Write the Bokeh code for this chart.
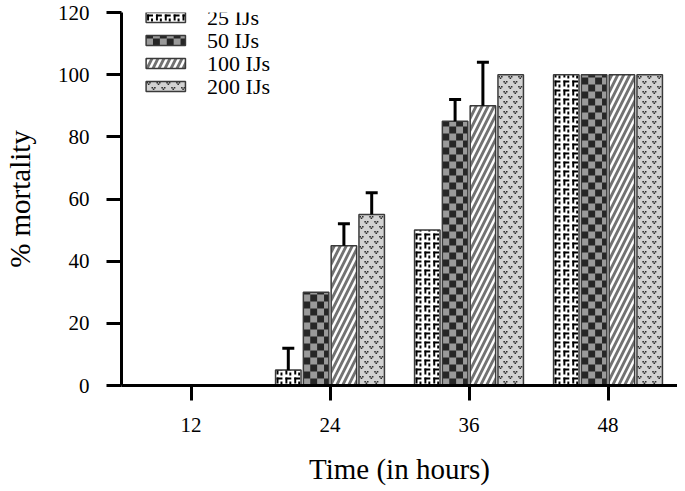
import math
from bokeh.plotting import figure
from bokeh.models import (Range1d, FixedTicker, Whisker, TeeHead,
                          ColumnDataSource, Label)
from bokeh.embed import file_html
from bokeh.resources import INLINE

# ---- data ----
hours = [12, 24, 36, 48]
doses = ["25 IJs", "50 IJs", "100 IJs", "200 IJs"]
mort_25 = [0, 5, 50, 100]
mort_50 = [0, 30, 85, 100]
mort_100 = [0, 45, 90, 100]
mort_200 = [0, 55, 100, 100]
err_25 = [0, 7, 0, 0]
err_50 = [0, 0, 7, 0]
err_100 = [0, 7, 14, 0]
err_200 = [0, 7, 0, 0]
y_ticks = [0, 20, 40, 60, 80, 100, 120]

series = [mort_25, mort_50, mort_100, mort_200]
errors = [err_25, err_50, err_100, err_200]

# ---- layout / style ----
FONT = "Liberation Serif"
W, H = 677, 487
BL, BR, BT, BB = 112, 0, 12, 102
X0, X1, Y0, Y1 = 6, 54, 0, 120
ux = (X1 - X0) / (W - BL - BR)      # data units per pixel (x)
uy = (Y1 - Y0) / (H - BT - BB)      # data units per pixel (y)
offsets = [-3.6, -1.2, 1.2, 3.6]
bar_w = 2.2
OUTLINE = "#3a3a3a"

# pattern tiles in pixels: (tile_w, tile_h, base colour, mark colour, rects (x, y_down, w, h))
patterns = [
    (9, 9, "white", "black", [(1, 1, 6, 2), (1, 1, 2, 6), (5, 5, 2, 3)]),
    (14, 14, "#9a9a9a", "#262626", [(0, 0, 7, 7), (7, 7, 7, 7)]),
    None,
    (10, 10, "#d2d2d2", "#2e2e2e", [(0.5, 0.5, 1.6, 1.6), (1.8, 2.0, 1.6, 1.6), (3.1, 0.5, 1.6, 1.6),
                                   (5.5, 5.5, 1.6, 1.6), (6.8, 7.0, 1.6, 1.6), (8.1, 5.5, 1.6, 1.6)]),
]
hatch100 = dict(fill_color="#727272", hatch_pattern="/", hatch_color="white",
                hatch_weight=2.5, hatch_scale=12)


def tile_quads(l, r, b, t, pat, acc):
    tw, th, _, _, rects = pat
    wpx = (r - l) / ux
    hpx = (t - b) / uy
    if wpx <= 0 or hpx <= 0:
        return
    ncol = int(math.ceil(wpx / tw))
    nrow = int(math.ceil(hpx / th))
    for i in range(nrow):
        for j in range(ncol):
            for (x0, y0, w, h) in rects:
                ql = l + (j * tw + x0) * ux
                qr = l + (j * tw + x0 + w) * ux
                qt = b + ((i + 1) * th - y0) * uy
                qb = b + ((i + 1) * th - y0 - h) * uy
                ql, qr = max(ql, l), min(qr, r)
                qb, qt = max(qb, b), min(qt, t)
                if qr > ql and qt > qb:
                    acc["left"].append(ql); acc["right"].append(qr)
                    acc["bottom"].append(qb); acc["top"].append(qt)


p = figure(width=W, height=H, output_backend="svg", toolbar_location=None,
           x_range=Range1d(X0, X1), y_range=Range1d(Y0, Y1),
           min_border_left=BL, min_border_right=BR, min_border_top=BT,
           min_border_bottom=BB)
p.outline_line_color = None
p.xgrid.visible = False
p.ygrid.visible = False

# legend geometry (pixels from frame top-left)
LEG_X, LEG_ROW0, LEG_STEP, SW_W, SW_H, TXT_DX = 25, 5, 23, 40, 10, 62

for k in range(4):
    xs = [h + offsets[k] for h in hours]
    tops = series[k]
    src = ColumnDataSource(dict(x=xs, top=tops))
    pat = patterns[k]

    # legend swatch rectangle (data coords)
    sl = X0 + LEG_X * ux
    sr = sl + SW_W * ux
    yc = Y1 - (LEG_ROW0 + k * LEG_STEP) * uy
    sb, st = yc - SW_H / 2 * uy, yc + SW_H / 2 * uy

    if pat is None:
        p.vbar(x="x", top="top", bottom=0, width=bar_w, source=src,
               line_color=None, **hatch100)
        p.quad(left=[sl], right=[sr], bottom=[sb], top=[st], line_color=None, **hatch100)
    else:
        p.vbar(x="x", top="top", bottom=0, width=bar_w, source=src,
               fill_color=pat[2], line_color=None)
        p.quad(left=[sl], right=[sr], bottom=[sb], top=[st],
               fill_color=pat[2], line_color=None)
        acc = dict(left=[], right=[], bottom=[], top=[])
        for xc, tv in zip(xs, tops):
            tile_quads(xc - bar_w / 2, xc + bar_w / 2, 0, tv, pat, acc)
        tile_quads(sl, sr, sb, st, pat, acc)
        p.quad(left="left", right="right", bottom="bottom", top="top",
               source=ColumnDataSource(acc), fill_color=pat[3], line_color=None)

    # outlines
    p.vbar(x="x", top="top", bottom=0, width=bar_w, source=src,
           fill_color=None, line_color=OUTLINE, line_width=1.5)
    p.quad(left=[sl], right=[sr], bottom=[sb], top=[st],
           fill_color=None, line_color=OUTLINE, line_width=1.5)

    p.add_layout(Label(x=X0 + (LEG_X + TXT_DX) * ux, y=yc, text=doses[k],
                       text_baseline="middle", text_align="left",
                       text_font=FONT, text_font_size="22px", text_color="black"))

    # error bars (upper only)
    ex = [xs[i] for i in range(4) if errors[k][i] > 0]
    lo = [tops[i] for i in range(4) if errors[k][i] > 0]
    hi = [tops[i] + errors[k][i] for i in range(4) if errors[k][i] > 0]
    if ex:
        es = ColumnDataSource(dict(x=ex, lower=lo, upper=hi))
        p.add_layout(Whisker(base="x", lower="lower", upper="upper", source=es,
                             dimension="height", line_color="black", line_width=3,
                             upper_head=TeeHead(size=12, line_width=3, line_color="black"),
                             lower_head=None, level="overlay"))

for ax in (p.xaxis[0], p.yaxis[0]):
    ax.axis_line_width = 3
    ax.axis_line_color = "black"
    ax.major_tick_line_width = 3
    ax.major_tick_line_color = "black"
    ax.major_tick_out = 15
    ax.major_tick_in = 0
    ax.minor_tick_out = 0
    ax.minor_tick_in = 0
    ax.major_label_text_font = FONT
    ax.major_label_text_font_size = "21px"
    ax.major_label_text_color = "black"
    ax.axis_label_text_font = FONT
    ax.axis_label_text_font_size = "29px"
    ax.axis_label_text_font_style = "normal"
    ax.axis_label_text_color = "black"

p.xaxis.ticker = FixedTicker(ticks=hours)
p.yaxis.ticker = FixedTicker(ticks=y_ticks)
p.xaxis.axis_label = "Time (in hours)"
p.yaxis.axis_label = "% mortality"
p.xaxis.major_label_standoff = 17
p.yaxis.major_label_standoff = 17
p.xaxis.axis_label_standoff = 18
p.yaxis.axis_label_standoff = 19

open("out.html", "w").write(file_html(p, INLINE))
